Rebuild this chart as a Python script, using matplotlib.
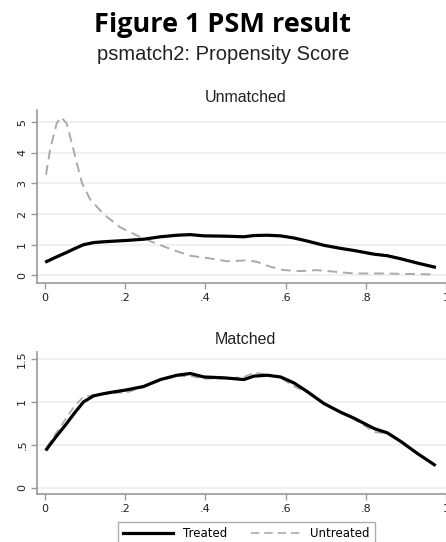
import numpy as np
import matplotlib.pyplot as plt

# treated density (same curve in both panels)
ps_treated = [0.004, 0.025, 0.054, 0.075, 0.096, 0.121, 0.14, 0.163, 0.204, 0.246,
              0.288, 0.329, 0.3625, 0.396, 0.446, 0.496, 0.521, 0.554, 0.5875, 0.621,
              0.654, 0.696, 0.7375, 0.771, 0.821, 0.854, 0.8875, 0.929, 0.971]
dens_treated = [0.45, 0.58, 0.75, 0.88, 1.00, 1.07, 1.09, 1.11, 1.14, 1.18,
                1.26, 1.31, 1.33, 1.29, 1.28, 1.26, 1.30, 1.31, 1.29, 1.22,
                1.12, 0.98, 0.88, 0.81, 0.69, 0.64, 0.54, 0.40, 0.27]

# untreated, unmatched
ps_untr = [0.0025, 0.0125, 0.029, 0.04, 0.054, 0.071, 0.092, 0.1125, 0.146, 0.1875,
           0.2375, 0.279, 0.321, 0.3625, 0.4125, 0.454, 0.504, 0.529, 0.5625, 0.596,
           0.6375, 0.679, 0.721, 0.771, 0.846, 0.971]
dens_untr = [3.29, 4.10, 4.96, 5.17, 4.96, 4.10, 3.02, 2.48, 2.00, 1.57,
             1.25, 1.03, 0.82, 0.64, 0.55, 0.46, 0.49, 0.44, 0.28, 0.17,
             0.14, 0.17, 0.12, 0.06, 0.06, 0.03]

# untreated, matched
ps_untr_m = [0.004, 0.025, 0.054, 0.075, 0.096, 0.121, 0.14, 0.163, 0.204, 0.246,
             0.288, 0.329, 0.3625, 0.396, 0.446, 0.496, 0.521, 0.554, 0.5875, 0.621,
             0.654, 0.696, 0.7375, 0.771, 0.821, 0.854, 0.8875, 0.929, 0.971]
dens_untr_m = [0.47, 0.62, 0.82, 0.96, 1.06, 1.08, 1.09, 1.10, 1.11, 1.17,
               1.25, 1.30, 1.30, 1.27, 1.27, 1.29, 1.34, 1.32, 1.28, 1.18,
               1.11, 0.98, 0.87, 0.80, 0.65, 0.63, 0.54, 0.40, 0.27]

xticks = [0, 0.2, 0.4, 0.6, 0.8, 1.0]
xlabels = ["0", ".2", ".4", ".6", ".8", "1"]
yticks_top = [0, 1, 2, 3, 4, 5]
ylabels_top = ["0", "1", "2", "3", "4", "5"]
yticks_bot = [0, 0.5, 1, 1.5]
ylabels_bot = ["0", ".5", "1", "1.5"]

W, H = 446, 542
fig = plt.figure(figsize=(W / 100, H / 100), dpi=100)

def px_axes(left, top, right, bottom):
    return fig.add_axes([left / W, 1 - bottom / H, (right - left) / W, (bottom - top) / H])

def style(ax, yt, yl):
    for s in ["top", "right"]:
        ax.spines[s].set_visible(False)
    for s in ["left", "bottom"]:
        ax.spines[s].set_color("#999999")
        ax.spines[s].set_linewidth(1.2)
    ax.set_xticks(xticks)
    ax.set_xticklabels(xlabels, fontsize=8, color="#222222")
    ax.set_yticks(yt)
    ax.set_yticklabels(yl, fontsize=8, color="#222222", rotation=90, va="center")
    ax.tick_params(length=4, width=1, color="#999999", pad=3)
    ax.grid(axis="y", color="#eeeeee", linewidth=1.2)
    ax.set_axisbelow(True)

ax1 = px_axes(37, 110, 454, 283)
ax1.set_xlim(-0.02, 1.02)
ax1.set_ylim(-0.25, 5.4)
ax1.plot(ps_untr, dens_untr, color="#aaaaaa", lw=1.4, ls=(0, (5, 3)))
ax1.plot(ps_treated, dens_treated, color="black", lw=2.3)
style(ax1, yticks_top, ylabels_top)
ax1.set_title("Unmatched", fontsize=11.5, family="Liberation Sans", color="#222222", pad=6)

ax2 = px_axes(37, 352, 454, 494)
ax2.set_xlim(-0.02, 1.02)
ax2.set_ylim(-0.07, 1.58)
ax2.plot(ps_untr_m, dens_untr_m, color="#aaaaaa", lw=1.2, ls=(0, (5, 3)), label="Untreated")
ax2.plot(ps_treated, dens_treated, color="black", lw=2.3, label="Treated")
style(ax2, yticks_bot, ylabels_bot)
ax2.set_title("Matched", fontsize=11.5, family="Liberation Sans", color="#222222", pad=6)

h, l = ax2.get_legend_handles_labels()
fig.legend([h[1], h[0]], [l[1], l[0]], loc="upper left",
           bbox_to_anchor=(118 / W, 1 - 522 / H), borderaxespad=0, ncol=2,
           fontsize=8.5, frameon=True, fancybox=False, edgecolor="#999999",
           handlelength=4.2, handletextpad=0.85, columnspacing=2.0, borderpad=0.45)

fig.text(0.5, 1 - 32 / H, "Figure 1 PSM result", ha="center", va="baseline",
         fontsize=19.5, fontweight="bold", family="Open Sans")
fig.text(0.5, 1 - 60 / H, "psmatch2: Propensity Score", ha="center", va="baseline",
         fontsize=14.5, family="Liberation Sans", color="#222222")

fig.savefig("out.png", dpi=100)
